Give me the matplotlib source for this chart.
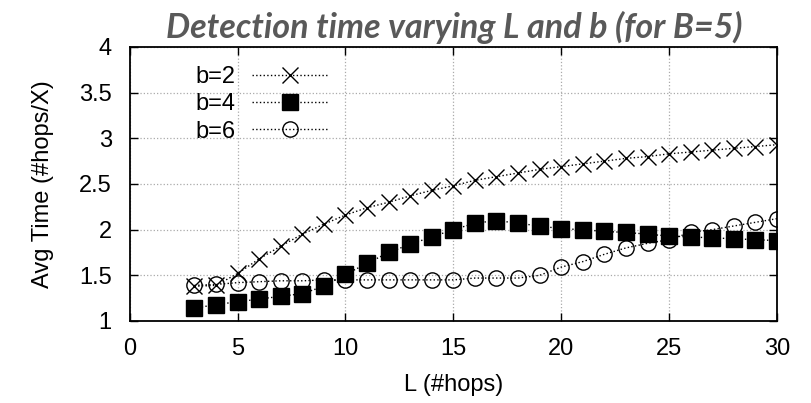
import matplotlib
matplotlib.use("Agg")
import matplotlib.pyplot as plt

L = list(range(3, 31))
b2 = [1.38, 1.39, 1.52, 1.68, 1.82, 1.95, 2.06, 2.16, 2.24, 2.30, 2.37, 2.43, 2.48,
      2.54, 2.58, 2.62, 2.66, 2.69, 2.72, 2.75, 2.78, 2.80, 2.83, 2.85, 2.87, 2.89, 2.91, 2.93]
b4 = [1.14, 1.18, 1.21, 1.24, 1.27, 1.30, 1.38, 1.51, 1.63, 1.75, 1.84, 1.92, 2.00,
      2.07, 2.10, 2.07, 2.04, 2.01, 2.00, 1.98, 1.97, 1.95, 1.93, 1.92, 1.91, 1.90, 1.89, 1.88]
b6 = [1.39, 1.40, 1.42, 1.43, 1.44, 1.44, 1.45, 1.45, 1.45, 1.45, 1.45, 1.45, 1.45,
      1.47, 1.47, 1.47, 1.50, 1.59, 1.65, 1.73, 1.80, 1.85, 1.89, 1.97, 2.00, 2.04, 2.08, 2.12]

xticks = [0, 5, 10, 15, 20, 25, 30]
yticks = [1, 1.5, 2, 2.5, 3, 3.5, 4]
ytick_labels = ["1", "1.5", "2", "2.5", "3", "3.5", "4"]

plt.rcParams['font.family'] = ['Liberation Sans', 'DejaVu Sans']

fig = plt.figure(figsize=(8.11, 4.03), dpi=100)
ax = fig.add_axes([0.160, 0.2035, 0.798, 0.680])

ax.plot(L, b2, linestyle=':', color='black', linewidth=1, marker='x', markersize=11,
        markeredgewidth=1, label='b=2')
ax.plot(L, b4, linestyle=':', color='black', linewidth=1, marker='s', markersize=11,
        label='b=4')
ax.plot(L, b6, linestyle=':', color='black', linewidth=1, marker='o', markersize=11,
        markerfacecolor='none', markeredgewidth=1, label='b=6')

ax.set_xlim(0, 30)
ax.set_ylim(1, 4)
ax.set_xticks(xticks)
ax.set_yticks(yticks)
ax.set_yticklabels(ytick_labels)
ax.tick_params(direction='in', labelsize=17, length=6, width=1, top=True, right=True)
ax.tick_params(axis='y', pad=13)
ax.tick_params(axis='x', pad=12)
ax.grid(True, linestyle=':', color='#aaaaaa', linewidth=0.9)
for s in ax.spines.values():
    s.set_linewidth(1.3)

ax.set_xlabel('L (#hops)', fontsize=17, labelpad=10)
ax.set_ylabel('Avg Time (#hops/X)', fontsize=17, labelpad=18)

leg = ax.legend(loc='upper left', markerfirst=False, frameon=False, fontsize=17,
                handlelength=3.2, labelspacing=0.23, borderaxespad=0.4,
                bbox_to_anchor=(0.072, 1.0), handletextpad=0.7)

fig.text(0.56, 0.932, 'Detection time varying L and b (for B=5)', ha='center', va='center',
         fontsize=24.6, fontstyle='italic', fontweight='bold', color='#595959',
         family=['Lato', 'DejaVu Sans'])

fig.savefig('out.png', dpi=100)
